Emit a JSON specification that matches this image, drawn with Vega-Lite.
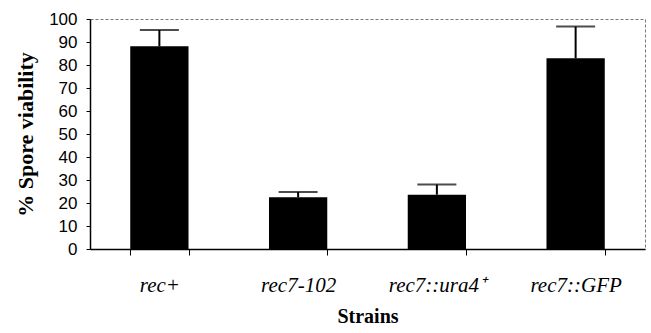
{
  "$schema": "https://vega.github.io/schema/vega-lite/v6.json",
  "width": 555,
  "height": 230,
  "autosize": {"type": "none"},
  "padding": {"left": 90, "top": 19, "right": 6, "bottom": 84},
  "background": "white",
  "config": {
    "view": {"stroke": "#777777", "strokeDash": [3, 2], "strokeWidth": 1},
    "axis": {"grid": false},
    "axisY": {
      "labelOverlap": false,
      "values": [0, 10, 20, 30, 40, 50, 60, 70, 80, 90, 100],
      "titleFont": "Liberation Serif",
      "titleFontWeight": "bold",
      "titleFontSize": 22,
      "titleColor": "black",
      "titlePadding": 11,
      "labelFont": "Liberation Sans",
      "labelFontSize": 17,
      "labelColor": "black",
      "labelPadding": 9,
      "tickSize": 4,
      "tickColor": "black",
      "domainColor": "black",
      "domainWidth": 1.5
    }
  },
  "data": {
    "values": [
      {"strain": "rec+", "viability": 88.1, "upper": 95.2},
      {"strain": "rec7-102", "viability": 22.5, "upper": 24.8},
      {"strain": "rec7::ura4⁺", "viability": 23.6, "upper": 28.0},
      {"strain": "rec7::GFP", "viability": 82.9, "upper": 96.7}
    ]
  },
  "encoding": {
    "x": {
      "field": "strain",
      "type": "nominal",
      "sort": null,
      "scale": {"paddingInner": 0.58, "paddingOuter": 0.29},
      "axis": {
        "title": "Strains",
        "titleFont": "Liberation Serif",
        "titleFontWeight": "bold",
        "titleFontSize": 20,
        "titleColor": "black",
        "titlePadding": 11,
        "labelFont": "Liberation Serif",
        "labelFontStyle": "italic",
        "labelFontSize": 21,
        "labelColor": "black",
        "labelPadding": 19,
        "labelAngle": 0,
        "tickBand": "extent",
        "tickSize": 6,
        "tickColor": "black",
        "domainColor": "black",
        "domainWidth": 1.5,
        "encode": {"labels": {"update": {"dx": {"signal": "datum.value === 'rec7::GFP' ? -17 : 0"}}}}
      }
    }
  },
  "layer": [
    {
      "mark": {"type": "bar", "color": "black"},
      "encoding": {
        "y": {
          "field": "viability",
          "type": "quantitative",
          "title": "% Spore viability",
          "scale": {"domain": [0, 100], "nice": false},
          "axis": {"values": [0, 10, 20, 30, 40, 50, 60, 70, 80, 90, 100], "labelOverlap": false}
        }
      }
    },
    {
      "mark": {"type": "rule", "color": "black", "strokeWidth": 2},
      "encoding": {
        "y": {"field": "viability", "type": "quantitative", "title": "% Spore viability", "axis": {"values": [0, 10, 20, 30, 40, 50, 60, 70, 80, 90, 100], "labelOverlap": false}},
        "y2": {"field": "upper"}
      }
    },
    {
      "mark": {"type": "tick", "color": "black", "thickness": 2, "size": 39},
      "encoding": {
        "y": {"field": "upper", "type": "quantitative", "title": "% Spore viability", "axis": {"values": [0, 10, 20, 30, 40, 50, 60, 70, 80, 90, 100], "labelOverlap": false}}
      }
    }
  ]
}
